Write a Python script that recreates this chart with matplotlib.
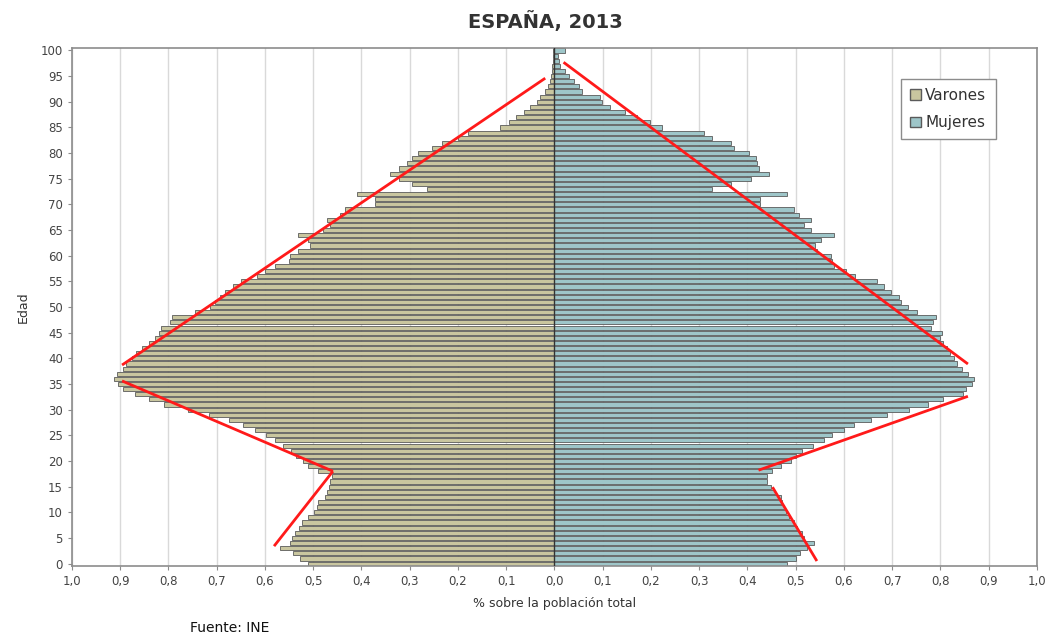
import numpy as np
import matplotlib.pyplot as plt
from matplotlib.patches import Patch
from matplotlib.ticker import FuncFormatter

# % of total population by single year of age (0..100)
edades = list(range(0, 101))

varones = [
    0.510, 0.527, 0.541, 0.568, 0.548, 0.544, 0.537, 0.530, 0.523, 0.510,  # 0-9
    0.499, 0.492, 0.489, 0.475, 0.472, 0.468, 0.465, 0.461, 0.490, 0.510,  # 10-19
    0.520, 0.535, 0.546, 0.562, 0.578, 0.598, 0.620, 0.645, 0.675, 0.715,  # 20-29
    0.760, 0.810, 0.840, 0.870, 0.895, 0.905, 0.913, 0.907, 0.895, 0.887,  # 30-39
    0.876, 0.867, 0.855, 0.840, 0.828, 0.820, 0.815, 0.797, 0.792, 0.745,  # 40-49
    0.714, 0.703, 0.693, 0.683, 0.667, 0.650, 0.617, 0.600, 0.579, 0.550,  # 50-59
    0.548, 0.531, 0.506, 0.510, 0.531, 0.479, 0.465, 0.472, 0.444, 0.434,  # 60-69
    0.371, 0.371, 0.410, 0.264, 0.295, 0.323, 0.340, 0.323, 0.306, 0.295,  # 70-79
    0.282, 0.254, 0.233, 0.200, 0.180, 0.112, 0.095, 0.080, 0.064, 0.050,  # 80-89
    0.037, 0.030, 0.020, 0.014, 0.010, 0.007, 0.005, 0.004, 0.003, 0.002,  # 90-99
    0.003,                                                                 # 100+
]

mujeres = [
    0.483, 0.500, 0.510, 0.524, 0.538, 0.517, 0.514, 0.503, 0.497, 0.486,
    0.479, 0.476, 0.472, 0.469, 0.458, 0.448, 0.441, 0.441, 0.452, 0.469,
    0.490, 0.500, 0.514, 0.535, 0.559, 0.576, 0.600, 0.621, 0.656, 0.690,
    0.735, 0.775, 0.805, 0.846, 0.853, 0.865, 0.870, 0.858, 0.845, 0.834,
    0.828, 0.820, 0.813, 0.806, 0.800, 0.804, 0.780, 0.784, 0.790, 0.752,
    0.732, 0.718, 0.714, 0.697, 0.683, 0.669, 0.624, 0.604, 0.579, 0.576,
    0.573, 0.545, 0.541, 0.552, 0.580, 0.531, 0.517, 0.531, 0.507, 0.497,
    0.427, 0.427, 0.483, 0.327, 0.365, 0.407, 0.445, 0.424, 0.420, 0.417,
    0.403, 0.372, 0.365, 0.327, 0.310, 0.223, 0.199, 0.172, 0.147, 0.116,
    0.099, 0.095, 0.057, 0.050, 0.040, 0.030, 0.023, 0.012, 0.010, 0.008,
    0.023,
]

# red guide lines drawn over the pyramid: (x values, age values)
guias = [
    ([-0.019, -0.896], [94.6, 38.7]),
    ([-0.896, -0.459], [35.6, 18.0]),
    ([-0.459, -0.581], [18.0, 3.4]),
    ([0.019, 0.857], [97.7, 38.9]),
    ([0.857, 0.423], [32.6, 18.2]),
    ([0.452, 0.544], [14.9, 0.5]),
]

color_v = "#c9c69f"
color_m = "#9ec6c9"
borde = "#5a5a5a"

fig = plt.figure(figsize=(10.57, 6.39), dpi=100)
ax = fig.add_axes([0.068, 0.114, 0.913, 0.811])

y = np.array(edades)
ax.barh(y, -np.array(varones), height=0.8, color=color_v, edgecolor=borde, linewidth=0.6, zorder=2)
ax.barh(y, np.array(mujeres), height=0.8, color=color_m, edgecolor=borde, linewidth=0.6, zorder=2)
ax.axvline(0, color="#333333", linewidth=1.0, zorder=3)

for xs, ys in guias:
    ax.plot(xs, ys, color="#ff1a1a", linewidth=2.0, zorder=4, solid_capstyle="butt")

ax.set_xlim(-1.0, 1.0)
ax.set_ylim(-0.5, 100.5)
ax.set_xticks(np.round(np.arange(-1.0, 1.01, 0.1), 1))
ax.xaxis.set_major_formatter(FuncFormatter(lambda v, p: ("%.1f" % abs(v)).replace(".", ",")))
ax.set_yticks(range(0, 101, 5))
ax.grid(axis="x", color="#d9d9d9", linewidth=1.0, zorder=0)
ax.set_axisbelow(True)
for s in ax.spines.values():
    s.set_color("#8c8c8c")
    s.set_linewidth(1.2)
ax.tick_params(axis="both", labelsize=8.5, colors="#444444", length=3, color="#8c8c8c")

ax.set_xlabel("% sobre la población total", fontsize=9, color="#333333", labelpad=6)
ax.set_ylabel("Edad", fontsize=9, color="#333333", labelpad=8)

fig.text(0.516, 0.967, "ESPAÑA, 2013", ha="center", va="center", fontsize=14, fontweight="bold", color="#333333")
fig.text(0.18, 0.017, "Fuente: INE", ha="left", va="center", fontsize=10, color="#111111")

handles = [Patch(facecolor=color_v, edgecolor=borde, label="Varones"),
           Patch(facecolor=color_m, edgecolor=borde, label="Mujeres")]
leg = ax.legend(handles=handles, loc="upper right", bbox_to_anchor=(0.965, 0.955),
                fontsize=11, handlelength=0.7, handleheight=0.7, handletextpad=0.3,
                borderpad=0.6, labelspacing=0.8, fancybox=False, framealpha=1)
leg.get_frame().set_edgecolor("#8c8c8c")
for t in leg.get_texts():
    t.set_color("#333333")

fig.savefig("out.png", dpi=100)
